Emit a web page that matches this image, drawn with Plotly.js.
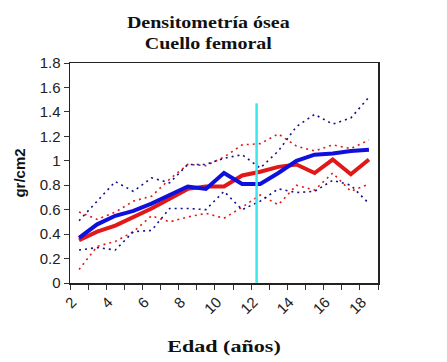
<!DOCTYPE html>
<html>
<head>
<meta charset="utf-8">
<script src="https://cdn.plot.ly/plotly-3.0.1.min.js"></script>
<style>html,body{margin:0;padding:0;background:#fff}#chart{width:447px;height:362px}</style>
</head>
<body>
<div id="chart"></div>
<script>
// Edad (años)
const ages = [2,3,4,5,6,7,8,9,10,11,12,13,14,15,16,17,18];
const xTickVals = [2,4,6,8,10,12,14,16,18];
const xTickText = ["2","4","6","8","10","12","14","16","18"];

// Solid mean lines
const redMean  = [0.35,0.42,0.47,0.54,0.61,0.69,0.77,0.79,0.79,0.88,0.91,0.95,0.97,0.90,1.01,0.89,1.01];
const blueMean = [0.37,0.48,0.55,0.59,0.65,0.72,0.79,0.77,0.90,0.81,0.81,0.90,1.00,1.05,1.06,1.08,1.09];

// Dotted bands
const redUpper  = [0.58,0.52,0.58,0.67,0.71,0.85,0.97,0.96,1.03,1.13,1.14,1.22,1.12,1.08,1.13,1.10,1.17];
const redLower  = [0.11,0.30,0.34,0.42,0.55,0.50,0.54,0.57,0.53,0.62,0.72,0.64,0.80,0.76,0.90,0.75,0.81];
const blueUpper = [0.51,0.67,0.83,0.75,0.86,0.82,0.97,0.97,1.02,1.05,0.94,1.08,1.28,1.38,1.30,1.35,1.52];
const blueLower = [0.27,0.29,0.27,0.42,0.43,0.61,0.61,0.60,0.75,0.60,0.67,0.77,0.74,0.75,0.84,0.80,0.65];

// Vertical reference line
const refAge = [11.8, 11.8];
const refVal = [0, 1.47];

const RED = '#e01818', BLUE = '#1010dd', NAVY = '#101090', CYAN = '#3ee6ee';
const DOT = '2px,4px';

const traces = [
  {x: ages, y: redUpper,  mode:'lines', line:{color:RED,  width:1.6, dash:DOT}},
  {x: ages, y: redLower,  mode:'lines', line:{color:RED,  width:1.6, dash:DOT}},
  {x: ages, y: blueUpper, mode:'lines', line:{color:NAVY, width:1.6, dash:DOT}},
  {x: ages, y: blueLower, mode:'lines', line:{color:NAVY, width:1.6, dash:DOT}},
  {x: ages, y: redMean,   mode:'lines', line:{color:RED,  width:4}},
  {x: ages, y: blueMean,  mode:'lines', line:{color:BLUE, width:4}},
  {x: refAge, y: refVal,  mode:'lines', line:{color:CYAN, width:2.5}}
];

const layout = {
  width: 447, height: 362,
  margin: {l:70, r:69, t:63, b:79},
  paper_bgcolor:'#fff', plot_bgcolor:'#fff',
  showlegend: false,
  title: {
    text: '<b>Densitometría ósea<br>Cuello femoral</b>',
    font: {family:'Liberation Serif, Times New Roman, serif', size:16, color:'#111'},
    xref:'container', x: 0.466, xanchor:'center',
    yref:'container', y: 0.922, yanchor:'middle'
  },
  xaxis: {
    range:[1.5, 18.5],
    tickmode:'array', tickvals:xTickVals, ticktext:xTickText,
    tickangle:-45, ticks:'',
    ticklabelshift:-7, ticklabelstandoff:3,
    minor:{ticks:'outside', tick0:1.5, dtick:1, ticklen:5, tickcolor:'#333', tickwidth:1},
    showgrid:false, zeroline:false,
    showline:true, linecolor:'#222', linewidth:1.5, mirror:true,
    tickfont:{family:'Liberation Sans, Arial, sans-serif', size:15, color:'#222'},
    title:{text:'<b>Edad (años)</b>', font:{family:'Liberation Serif, Times New Roman, serif', size:17, color:'#111'}, standoff:24}
  },
  yaxis: {
    range:[0, 1.8], dtick:0.2, tick0:0,
    ticks:'outside', ticklen:5, tickcolor:'#333',
    showgrid:false, zeroline:false,
    showline:true, linecolor:'#222', linewidth:1.5, mirror:true,
    tickfont:{family:'Liberation Sans, Arial, sans-serif', size:15, color:'#222'},
    title:{text:'<b>gr/cm2</b>', font:{family:'Liberation Sans, Arial, sans-serif', size:15, color:'#111'}, standoff:10}
  }
};

// The reference's serif titles are horizontally stretched; widen them to match.
function stretch(sel, factor) {
  const el = document.querySelector(sel);
  if (!el) return;
  const b = el.getBBox();
  const cx = b.x + b.width / 2;
  el.setAttribute('transform', `translate(${cx},0) scale(${factor},1) translate(${-cx},0)`);
}

Plotly.newPlot('chart', traces, layout, {displayModeBar:false, staticPlot:true}).then(() => {
  stretch('.gtitle', 1.25);
  stretch('.g-xtitle text', 1.3);
});
</script>
</body>
</html>
